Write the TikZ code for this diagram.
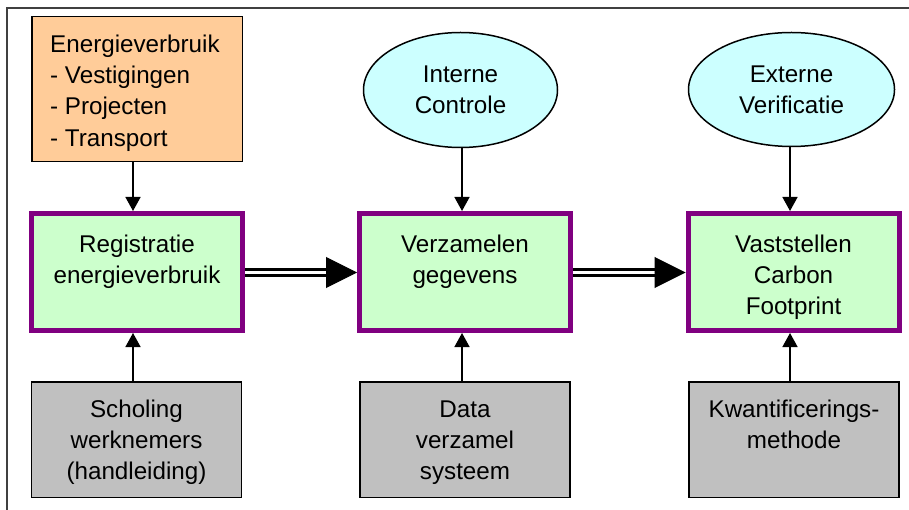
\documentclass[tikz,border=0pt]{standalone}
\usepackage{fontspec}
\setmainfont{Liberation Sans}
\usetikzlibrary{arrows.meta,shapes.geometric}

\definecolor{inputfill}{HTML}{FFCC99}
\definecolor{stagefill}{HTML}{CCFFCC}
\definecolor{stageedge}{HTML}{800080}
\definecolor{checkfill}{HTML}{CCFFFF}
\definecolor{supportfill}{HTML}{C0C0C0}
\definecolor{framegray}{HTML}{404040}

% strut that fixes the top of the first text line
\newcommand\firstline{\rule{0pt}{18pt}}

\tikzset{
  inputbox/.style={draw=black, line width=1.5pt, fill=inputfill, rectangle,
    minimum width=210.5pt, minimum height=145pt, inner sep=0pt},
  stagebox/.style={draw=stageedge, line width=5pt, fill=stagefill, rectangle,
    minimum width=211pt, minimum height=117pt, inner sep=0pt},
  supportbox/.style={draw=black, line width=1.5pt, fill=supportfill, rectangle,
    minimum width=210pt, minimum height=115.5pt, inner sep=0pt},
  checkoval/.style={draw=black, line width=1.5pt, fill=checkfill, ellipse,
    inner sep=0pt, align=center},
  boxtext/.style={inner sep=0pt, align=center, anchor=north},
  conn/.style={draw=black, line width=1.5pt, -{Triangle[length=14pt,width=15pt]}},
  flowline/.style={draw=black, line width=3pt, double=white, double distance=3pt},
  flowtip/.style={draw=black, line width=1pt, -{Triangle[length=31pt,width=31pt]}},
  framerule/.style={draw=framegray, line width=1.2pt}
}

\begin{document}
\begin{tikzpicture}[x=1pt, y=-1pt, font=\fontsize{24.2}{31.3}\selectfont]
\useasboundingbox (0,0) rectangle (909,510);

% page frame
\draw[framerule] (909,8) -- (7,8) -- (7,510);

% input on top left
\node[inputbox] (input) at (137,89) {};
\node[inner sep=0pt, align=left, anchor=north west] (inputtxt) at (50,34)
  {\firstline Energieverbruik\\- Vestigingen\\- Projecten\\- Transport};

% checks on top
\node[checkoval, minimum width=194pt, minimum height=115pt] (ctl) at (460.5,90)
  {Interne\\Controle};
\node[checkoval, minimum width=206pt, minimum height=114pt] (ver) at (791.5,89.5)
  {Externe\\Verificatie};

% main process stages
\node[stagebox] (reg) at (137,272) {};
\node[stagebox] (col) at (465,272) {};
\node[stagebox] (cfp) at (793.5,272) {};
\node[boxtext] (regtxt) at (137,234) {\firstline Registratie\\energieverbruik};
\node[boxtext] (coltxt) at (465,234) {\firstline Verzamelen\\gegevens};
\node[boxtext] (cfptxt) at (793.5,234) {\firstline Vaststellen\\Carbon\\Footprint};

% supporting means
\node[supportbox] (sch) at (136.5,439.5) {};
\node[supportbox] (dat) at (465,439.5) {};
\node[supportbox] (kwa) at (794,439.5) {};
\node[boxtext] (schtxt) at (136.5,399) {\firstline Scholing\\werknemers\\(handleiding)};
\node[boxtext] (dattxt) at (465,399) {\firstline Data\\verzamel\\systeem};
\node[boxtext] (kwatxt) at (794,399) {\firstline Kwantificerings-\\methode};

% vertical connectors
\draw[conn] ([xshift=-4pt]input.south) -- ([xshift=-4pt]input.south |- reg.north);
\draw[conn] ([xshift=1.5pt]ctl.south) -- ([xshift=1.5pt]ctl.south |- col.north);
\draw[conn] ([xshift=-1.5pt]ver.south) -- ([xshift=-1.5pt]ver.south |- cfp.north);
\draw[conn] ([xshift=-3.5pt]sch.north) -- ([xshift=-3.5pt]sch.north |- reg.south);
\draw[conn] ([xshift=-3pt]dat.north) -- ([xshift=-3pt]dat.north |- col.south);
\draw[conn] ([xshift=-4pt]kwa.north) -- ([xshift=-4pt]kwa.north |- cfp.south);

% main flow (double arrows)
\draw[flowline] ([yshift=-0.5pt]reg.east) -- ([xshift=-29pt,yshift=-0.5pt]col.west);
\draw[flowtip] ([xshift=-31pt,yshift=-0.5pt]col.west) -- ([yshift=-0.5pt]col.west);
\draw[flowline] ([yshift=-0.5pt]col.east) -- ([xshift=-29pt,yshift=-0.5pt]cfp.west);
\draw[flowtip] ([xshift=-31pt,yshift=-0.5pt]cfp.west) -- ([yshift=-0.5pt]cfp.west);
\end{tikzpicture}
\end{document}
